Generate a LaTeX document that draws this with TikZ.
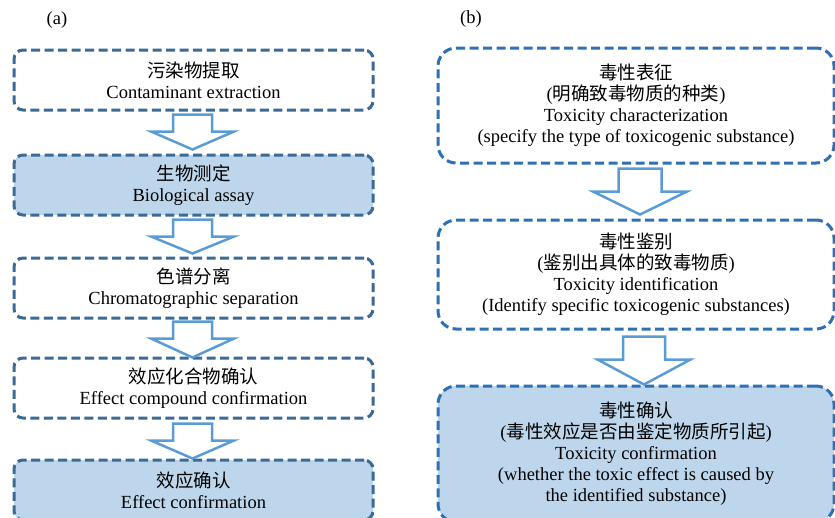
\documentclass[tikz,border=0pt]{standalone}
\usepackage{fontspec}
\setmainfont{Liberation Serif}
\newfontfamily\cjk{Noto Sans CJK SC}
\usetikzlibrary{calc}
\definecolor{lborder}{RGB}{60,106,150}
\definecolor{rborder}{RGB}{46,112,180}
\definecolor{boxfill}{RGB}{189,214,236}
\definecolor{arrowcol}{RGB}{91,155,213}
\tikzset{
  basebox/.style={line width=3pt, dash pattern=on 9pt off 4.5pt, inner sep=0pt, align=center,
    font=\fontsize{18.5}{21}\selectfont},
  lbox/.style={basebox, draw=lborder, rounded corners=9pt, minimum width=359pt, minimum height=60pt},
  rbox/.style={basebox, draw=rborder, rounded corners=18pt, minimum width=396pt},
  filled/.style={fill=boxfill},
  arrowline/.style={draw=arrowcol, line width=2.5pt, fill=white, line join=miter},
  pics/barrow/.style n args={4}{code={
    \draw[arrowline] (-#1,0) -- (#1,0) -- (#1,#3) -- (#2,#3) -- (0,#4) -- (-#2,#3) -- (-#1,#3) -- cycle;
  }},
  panel/.style={font=\fontsize{18.5}{21}\selectfont}
}
\begin{document}
\begin{tikzpicture}[x=1pt,y=-1pt]
\useasboundingbox (0,0) rectangle (835,517);
% panel labels
\node[panel] (la) at (57,20) {(a)};
\node[panel] (lb) at (471,19) {(b)};
% left column
\node[lbox] (a1) at (193.5,80) {{\cjk 污染物提取}\\Contaminant extraction};
\node[lbox,filled] (a2) at (193.5,185) {{\cjk 生物测定}\\Biological assay};
\node[lbox] (a3) at (193.5,288) {{\cjk 色谱分离}\\Chromatographic separation};
\node[lbox] (a4) at (193.5,388) {{\cjk 效应化合物确认}\\Effect compound confirmation};
\node[lbox,filled] (a5) at (193.5,490) {{\cjk 效应确认}\\Effect confirmation};
\pic at ($(a1.south)+(-1,3)$) {barrow={19.5}{41.5}{17}{35}};
\pic at ($(a2.south)+(-1,3)$) {barrow={19.5}{41.5}{17}{34}};
\pic at ($(a3.south)+(-1,2)$) {barrow={19.5}{41.5}{17}{36}};
\pic at ($(a4.south)+(-1,4)$) {barrow={19.5}{41.5}{17}{35}};
% right column
\node[rbox, minimum height=115pt] (b1) at (636,105.5)
  {{\cjk 毒性表征}\\({\cjk 明确致毒物质的种类})\\Toxicity characterization\\(specify the type of toxicogenic substance)};
\node[rbox, minimum height=109pt] (b2) at (636,274.5)
  {{\cjk 毒性鉴别}\\({\cjk 鉴别出具体的致毒物质})\\Toxicity identification\\(Identify specific toxicogenic substances)};
\node[rbox, filled, minimum height=136pt] (b3) at (636,454)
  {{\cjk 毒性确认}\\({\cjk 毒性效应是否由鉴定物质所引起})\\Toxicity confirmation\\(whether the toxic effect is caused by\\the identified substance)};
\pic at ($(b1.south)+(4,4)$) {barrow={21.5}{47}{23}{46}};
\pic at ($(b2.south)+(8,6)$) {barrow={21}{46.5}{23}{48}};
\end{tikzpicture}
\end{document}
